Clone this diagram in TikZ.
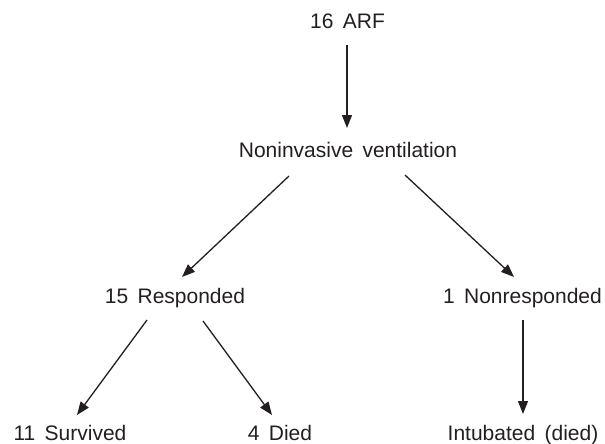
\documentclass[tikz,border=0pt]{standalone}
\usepackage{fontspec}
\setmainfont[WordSpace=1.6]{Liberation Sans}
\usetikzlibrary{arrows.meta}
\definecolor{ink}{HTML}{231F20}
\begin{document}
\begin{tikzpicture}[x=1pt,y=-1pt,
  lbl/.style={anchor=base,inner sep=0pt,text=ink,font=\fontsize{21}{25}\selectfont},
  conn/.style={draw=ink,line width=1.3pt,-{Triangle[length=13pt,width=10pt]}}]
\useasboundingbox (0,0) rectangle (605,444);
\node[lbl] (arf) at (347.5,29) {16 ARF};
\node[lbl] (niv) at (348,157) {Noninvasive ventilation};
\node[lbl] (resp) at (175,303) {15 Responded};
\node[lbl] (nonr) at (522.5,303) {1 Nonresponded};
\node[lbl] (surv) at (70,440) {11 Survived};
\node[lbl] (died) at (280,440) {4 Died};
\node[lbl] (intu) at (523,440) {Intubated (died)};
\coordinate (a1) at (347,45);  \coordinate (a2) at (347,128);
\coordinate (b1) at (289,176); \coordinate (b2) at (182,277);
\coordinate (c1) at (405,175); \coordinate (c2) at (514,277);
\coordinate (d1) at (147,320); \coordinate (d2) at (77,415);
\coordinate (e1) at (203,321); \coordinate (e2) at (272,415);
\coordinate (f1) at (523,320); \coordinate (f2) at (523,414);
\draw[conn] (a1) -- (a2);
\draw[conn] (b1) -- (b2);
\draw[conn] (c1) -- (c2);
\draw[conn] (d1) -- (d2);
\draw[conn] (e1) -- (e2);
\draw[conn] (f1) -- (f2);
\end{tikzpicture}
\end{document}
